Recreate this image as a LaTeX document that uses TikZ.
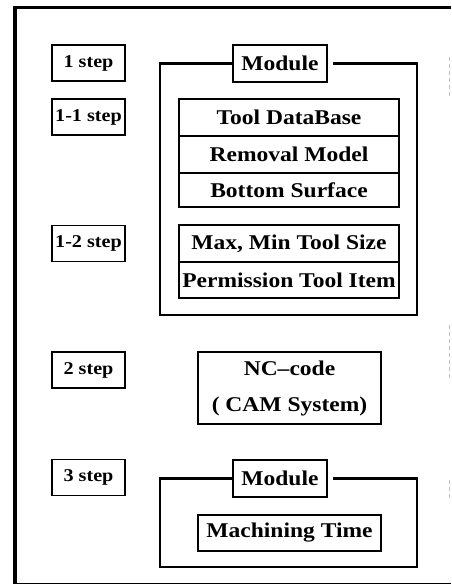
\documentclass[tikz,border=0pt]{standalone}
\usepackage{fontspec}
\setmainfont{Liberation Serif}[FakeStretch=1.12]
\begin{document}
\begin{tikzpicture}[x=1pt,y=-1pt,
  stepbox/.style={draw,line width=1.2pt,minimum width=73pt,minimum height=36pt,inner sep=0pt,font=\fontsize{18}{20}\selectfont\bfseries},
  modlabel/.style={draw,line width=1.2pt,fill=white,minimum width=94pt,minimum height=37pt,inner sep=0pt,font=\fontsize{21}{23}\selectfont\bfseries},
  row/.style={draw,line width=1.2pt,minimum width=220pt,inner sep=0pt,font=\fontsize{21}{23}\selectfont\bfseries},
  cbox/.style={draw,line width=1.2pt,minimum width=183pt,inner sep=0pt,align=center,font=\fontsize{21}{36}\selectfont\bfseries},
  frame/.style={line width=3.2pt},
  modframe/.style={line width=2.6pt}]
\useasboundingbox (0,0) rectangle (451,585);
% outer frame
\coordinate (ftr) at (451,7.5);
\coordinate (ftl) at (15,7.5);
\coordinate (fbl) at (15,583.5);
\coordinate (fbr) at (451,583.5);
\draw[frame] (ftr) -- (ftl) -- (fbl);
\draw[line width=1.6pt] (fbl) -- (fbr);
\draw[black!25,line width=1pt,dash pattern=on 4pt off 3pt] (449.5,57) -- (449.5,96);
\draw[black!25,line width=1pt,dash pattern=on 4pt off 3pt] (449.5,325) -- (449.5,378);
\draw[black!25,line width=1pt,dash pattern=on 4pt off 3pt] (449.5,480) -- (449.5,500);
% step boxes
\node[stepbox] (s1) at (88.5,63) {1 step};
\node[stepbox] (s11) at (88.5,117) {1-1 step};
\node[stepbox] (s12) at (88.5,243.5) {1-2 step};
\node[stepbox] (s2) at (88.5,370) {2 step};
\node[stepbox] (s3) at (88.5,477.5) {3 step};
% module 1
\node[modlabel] (m1) at (280,63.5) {Module};
\coordinate (m1a) at (333,63.5);
\coordinate (m1b) at (417,63.5);
\coordinate (m1c) at (417,315);
\coordinate (m1d) at (160,315);
\coordinate (m1e) at (160,63.5);
\draw[modframe] (m1a) -- (m1b) -- (m1c) -- (m1d) -- (m1e) -- (m1.west);
\node[row,minimum height=37pt] (r1) at (289,117.5) {Tool DataBase};
\node[row,minimum height=37pt] (r2) at (289,154.5) {Removal Model};
\node[row,minimum height=34pt] (r3) at (289,190) {Bottom Surface};
\node[row,minimum height=37pt] (r4) at (289,243.5) {Max, Min Tool Size};
\node[row,minimum height=36pt] (r5) at (289,280) {Permission Tool Item};
% NC code
\node[cbox,minimum height=72pt] (nc) at (289.5,388) {NC--code\\( CAM System)};
% module 2
\node[modlabel] (m2) at (280,478.5) {Module};
\coordinate (m2a) at (333,478.5);
\coordinate (m2b) at (417,478.5);
\coordinate (m2c) at (417,567);
\coordinate (m2d) at (160,567);
\coordinate (m2e) at (160,478.5);
\draw[modframe] (m2a) -- (m2b) -- (m2c) -- (m2d) -- (m2e) -- (m2.west);
\node[cbox,minimum height=36pt] (mt) at (289.5,533) {Machining Time};
\end{tikzpicture}
\end{document}
